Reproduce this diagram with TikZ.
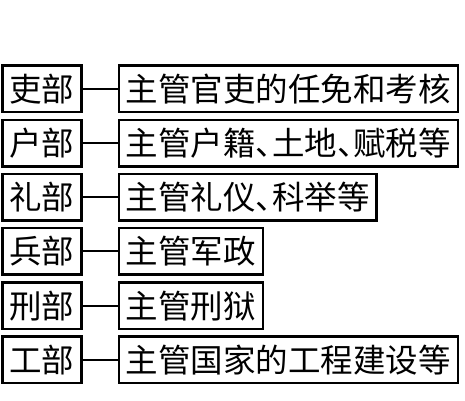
\documentclass[tikz,border=0pt]{standalone}
\usepackage{fontspec}
\setmainfont{Noto Sans CJK SC}[RawFeature=+halt]
\usetikzlibrary{positioning}
\tikzset{
  dept box/.style={draw, line width=2.5pt, minimum height=46.5pt, inner xsep=7pt, inner ysep=0pt, font=\fontsize{32.5}{34}\selectfont},
  duty box/.style={dept box, anchor=west},
  link/.style={line width=2pt},
}

\begin{document}
\begin{tikzpicture}[x=1pt, y=1pt]
  \useasboundingbox (0,88.8) rectangle (465,-311.2);
  \foreach \i/\dept/\duty in {0/吏部/主管官吏的任免和考核, 1/户部/主管户籍、土地、赋税等,
      2/礼部/主管礼仪、科举等, 3/兵部/主管军政, 4/刑部/主管刑狱, 5/工部/主管国家的工程建设等}{
    \node[dept box, anchor=west] (d\i) at (1.2,-54.2*\i) {\dept};
    \node[duty box, right=35pt of d\i] (t\i) {\duty};
    \draw[link] (d\i) -- (t\i);
  }
\end{tikzpicture}
\end{document}
